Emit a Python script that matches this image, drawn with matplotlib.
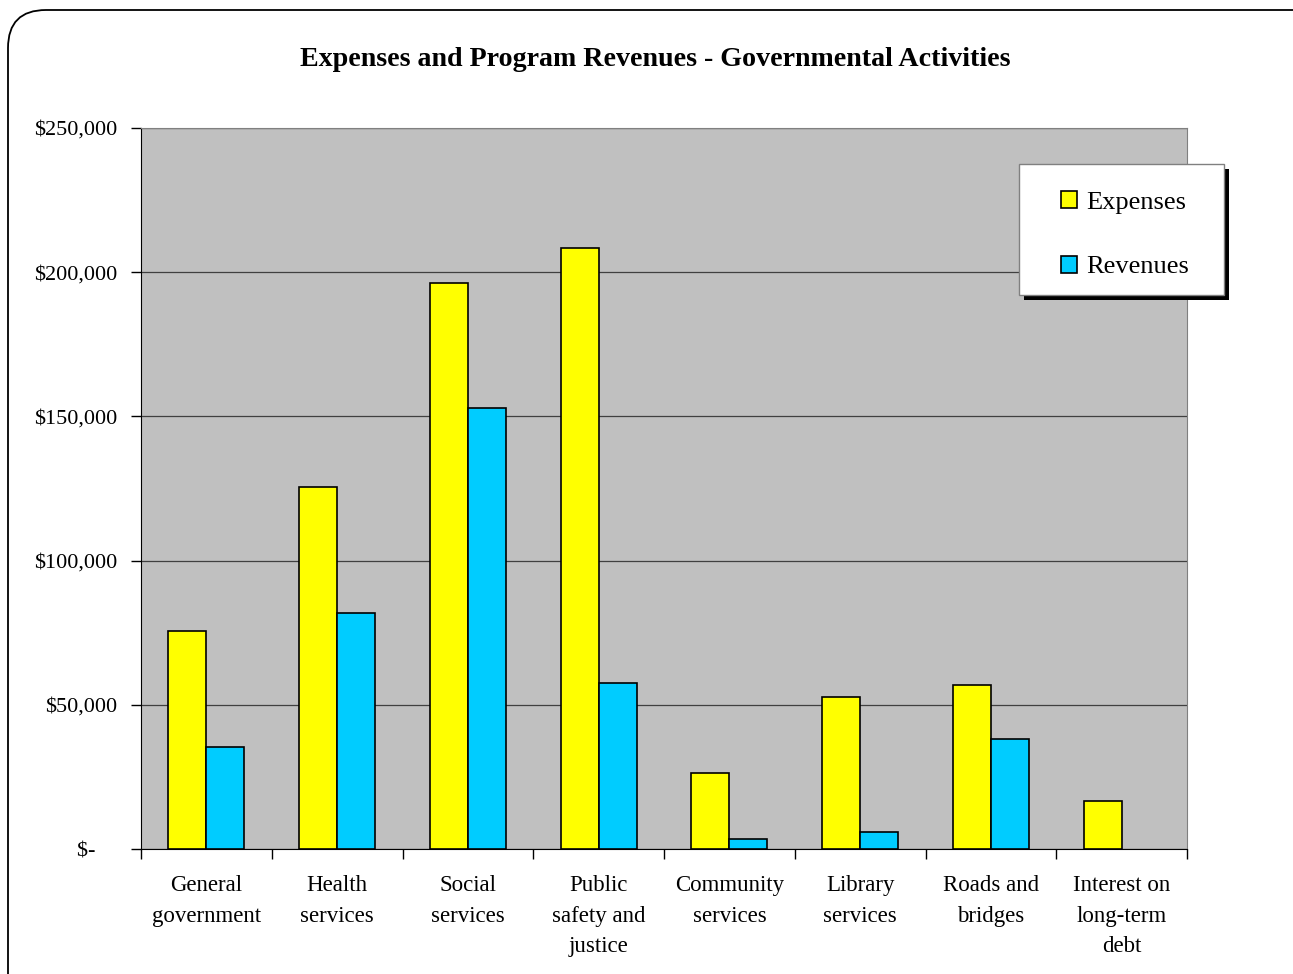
import matplotlib.pyplot as plt
import numpy as np
from matplotlib.patches import FancyBboxPatch, Rectangle
from matplotlib.transforms import IdentityTransform

categories = ["General\ngovernment", "Health\nservices", "Social\nservices",
              "Public\nsafety and\njustice", "Community\nservices", "Library\nservices",
              "Roads and\nbridges", "Interest on\nlong-term\ndebt"]
expenses = [75500, 125500, 196300, 208400, 26400, 52700, 56900, 16600]
revenues = [35400, 81800, 152900, 57600, 3500, 5900, 38100, 0]
y_ticks = [0, 50000, 100000, 150000, 200000, 250000]
y_labels = ["$-    ", "$50,000", "$100,000", "$150,000", "$200,000", "$250,000"]

plt.rcParams['font.family'] = ['Liberation Serif', 'DejaVu Serif']

fig = plt.figure(figsize=(12.93, 9.74), dpi=100)
px = IdentityTransform()

# rounded outer frame (pixel coords)
frame = FancyBboxPatch((8, -60), 1350, 974 - 10 + 60,
                       boxstyle="round,pad=0,rounding_size=38",
                       transform=px, facecolor='white',
                       edgecolor='black', linewidth=1.3, zorder=-10)
fig.patches.append(frame)

ax = fig.add_axes([141 / 1293, 1 - 849 / 974, 1046 / 1293, 721 / 974])
ax.set_facecolor('#C0C0C0')

x = np.arange(len(categories))
w = 0.29
b1 = ax.bar(x - w / 2, expenses, w, color='#FFFF00', edgecolor='black', linewidth=1.2,
            label='Expenses', zorder=3)
b2 = ax.bar(x + w / 2, revenues, w, color='#00CCFF', edgecolor='black',
            linewidth=[1.2 if v > 0 else 0 for v in revenues],
            label='Revenues', zorder=3)

ax.set_xlim(-0.5, len(categories) - 0.5)
ax.set_ylim(0, 250000)

ax.set_yticks(y_ticks)
ax.set_yticklabels(y_labels, fontsize=16)
ax.yaxis.grid(True, color='#404040', linewidth=0.9, zorder=1)
ax.set_axisbelow(True)

ax.set_xticks(np.arange(len(categories) + 1) - 0.5)
ax.set_xticklabels([])
ax.set_xticks(x, minor=True)
ax.set_xticklabels(categories, minor=True, fontsize=16.5, linespacing=1.58)
ax.tick_params(axis='x', which='minor', length=0, pad=19)
ax.tick_params(axis='x', which='major', length=7, width=1, direction='out')
ax.tick_params(axis='y', length=7, width=1, direction='out', pad=10)

ax.spines['left'].set_color('black')
ax.spines['bottom'].set_color('black')
ax.spines['top'].set_color('#808080')
ax.spines['right'].set_color('#808080')

fig.text(655 / 1293, 1 - 59 / 974,
         "Expenses and Program Revenues - Governmental Activities",
         fontsize=20.2, fontweight='bold', ha='center', va='center')

# legend box with hard black shadow
fig.patches.append(Rectangle((1024, 974 - 300), 205, 131, transform=px,
                             facecolor='black', edgecolor='none', zorder=3))
fig.patches.append(Rectangle((1019, 974 - 295), 205, 131, transform=px,
                             facecolor='white', edgecolor='#808080',
                             linewidth=1, zorder=4))
leg = fig.legend(handles=[b1, b2], labels=['Expenses', 'Revenues'],
                 loc='upper left', bbox_to_anchor=(1061, 974 - 191),
                 bbox_transform=px, fontsize=19, frameon=False,
                 handlelength=0.62, handleheight=0.62, handletextpad=0.35,
                 labelspacing=1.58, borderpad=0, borderaxespad=0)
leg.set_zorder(5)

fig.savefig("out.png", dpi=100)
